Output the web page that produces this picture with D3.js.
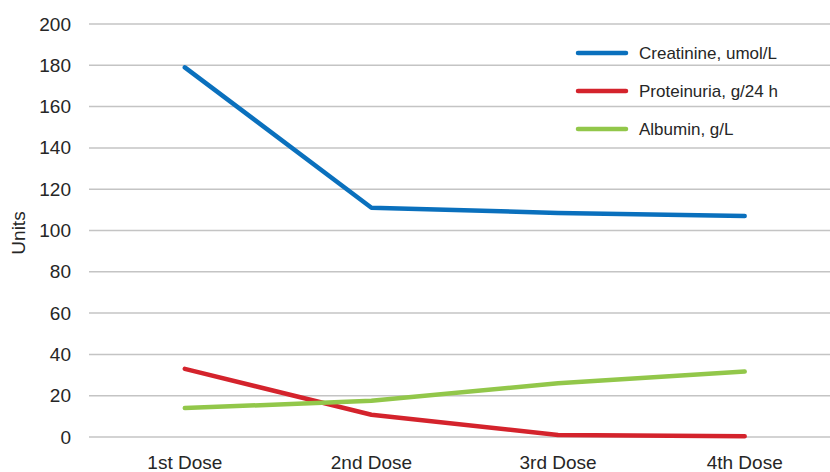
<!DOCTYPE html>
<html>
<head>
<meta charset="utf-8">
<script src="https://cdn.jsdelivr.net/npm/d3@7"></script>
<style>
  html, body { margin: 0; padding: 0; background: #fff; }
  svg { display: block; font-family: "Liberation Sans", Arial, sans-serif; }
</style>
</head>
<body>
<svg id="chart" width="830" height="472"></svg>
<script>
// Treatment time points
const doses = ["1st Dose", "2nd Dose", "3rd Dose", "4th Dose"];

// Lab values at each dose
const creatinine = [179, 111, 108.5, 107];
const proteinuria = [33, 10.8, 1, 0.4];
const albumin = [14, 17.5, 26, 31.7];

const seriesNames = ["Creatinine, umol/L", "Proteinuria, g/24 h", "Albumin, g/L"];
const seriesColors = ["#0a70bd", "#d4232c", "#92c74a"];
const yTicks = [0, 20, 40, 60, 80, 100, 120, 140, 160, 180, 200];

const series = [creatinine, proteinuria, albumin].map((values, i) => ({
  name: seriesNames[i],
  color: seriesColors[i],
  values
}));

const svg = d3.select("#chart");
const gridLeft = 89;
const textColor = "#262626";

const x = d3.scaleBand().domain(doses).range([91.5, 838]);
const y = d3.scaleLinear().domain([0, 200]).range([437, 24]);

// Horizontal gridlines
svg.append("g")
  .selectAll("line")
  .data(yTicks)
  .join("line")
  .attr("x1", gridLeft)
  .attr("x2", 860)
  .attr("y1", d => y(d))
  .attr("y2", d => y(d))
  .attr("stroke", "#c4c4c4")
  .attr("stroke-width", 1.5);

// Y axis labels
const yAxis = d3.axisLeft(y).tickValues(yTicks).tickSize(0).tickPadding(0);
const yg = svg.append("g").attr("transform", "translate(71,0)").call(yAxis);
yg.select(".domain").remove();
yg.selectAll("text")
  .attr("font-size", 19)
  .attr("fill", textColor)
  .attr("font-family", "Liberation Sans, Arial, sans-serif");

// X axis labels
const xAxis = d3.axisBottom(x).tickSize(0).tickPadding(0);
const xg = svg.append("g").attr("transform", "translate(0,455.5)").call(xAxis);
xg.select(".domain").remove();
xg.selectAll("text")
  .attr("font-size", 19)
  .attr("fill", textColor)
  .attr("dy", "0.71em")
  .attr("font-family", "Liberation Sans, Arial, sans-serif");

// Y axis title
svg.append("text")
  .attr("transform", "translate(25,233) rotate(-90)")
  .attr("text-anchor", "middle")
  .attr("font-size", 19)
  .attr("fill", textColor)
  .text("Units");

// Lines
const line = d3.line()
  .x((d, i) => x(doses[i]) + x.bandwidth() / 2)
  .y(d => y(d));

svg.append("g")
  .selectAll("path")
  .data(series)
  .join("path")
  .attr("d", d => line(d.values))
  .attr("fill", "none")
  .attr("stroke", d => d.color)
  .attr("stroke-width", 4.5)
  .attr("stroke-linecap", "round")
  .attr("stroke-linejoin", "round");

// Legend
const legend = svg.append("g")
  .selectAll("g")
  .data(series)
  .join("g")
  .attr("transform", (d, i) => `translate(578,${53 + i * 38})`);

legend.append("line")
  .attr("x1", 0).attr("x2", 48)
  .attr("stroke", d => d.color)
  .attr("stroke-width", 4.5)
  .attr("stroke-linecap", "round");

legend.append("text")
  .attr("x", 61)
  .attr("dy", "0.35em")
  .attr("font-size", 17)
  .attr("fill", textColor)
  .text(d => d.name);
</script>
</body>
</html>
